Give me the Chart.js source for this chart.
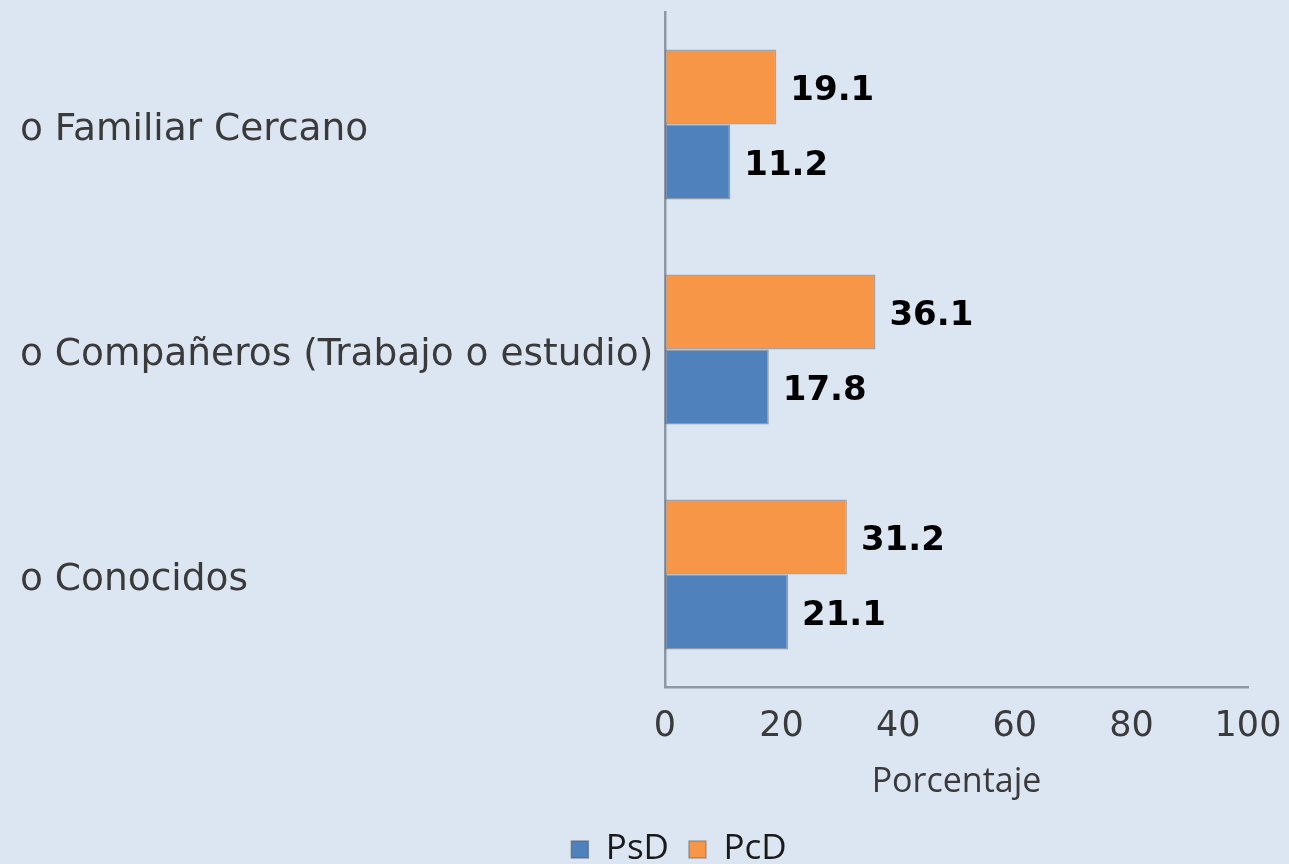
<!DOCTYPE html>
<html>
<head>
<meta charset="utf-8">
<script src="https://cdn.jsdelivr.net/npm/chart.js@4/dist/chart.umd.min.js"></script>
<style>
  html, body { margin: 0; padding: 0; background: #dce6f2; }
  #wrap { width: 1289px; height: 864px; position: relative; }
</style>
</head>
<body>
<div id="wrap"><canvas id="c" width="1289" height="864"></canvas></div>
<script>
const categories = ["o Familiar Cercano", "o Compañeros (Trabajo o estudio)", "o Conocidos"];
const seriesNames = ["PsD", "PcD"];
const psdValues = [11.2, 17.8, 21.1];
const pcdValues = [19.1, 36.1, 31.2];
const xTicks = [0, 20, 40, 60, 80, 100];

const BLUE = '#4f81bd';
const ORANGE = '#f79646';
const AXIS = '#8e98a5';
const TEXT = '#3a3a3a';

const bgPlugin = {
  id: 'bg',
  beforeDraw(chart) {
    const ctx = chart.ctx;
    ctx.save();
    ctx.fillStyle = '#dce6f2';
    ctx.fillRect(0, 0, chart.width, chart.height);
    ctx.restore();
  }
};

const legendShift = {
  id: 'legendShift',
  afterLayout(chart) {
    const lg = chart.legend;
    if (!lg) return;
    const dx = 45, dy = 13;
    lg.left += dx; lg.right += dx;
    lg.top += dy; lg.bottom += dy;
  }
};

const valueLabels = {
  id: 'valueLabels',
  afterDatasetsDraw(chart) {
    const ctx = chart.ctx;
    ctx.save();
    ctx.font = 'bold 34px "DejaVu Sans"';
    ctx.fillStyle = '#000000';
    ctx.textAlign = 'left';
    ctx.textBaseline = 'middle';
    chart.data.datasets.forEach((ds, i) => {
      const meta = chart.getDatasetMeta(i);
      meta.data.forEach((bar, j) => {
        ctx.fillText(ds.data[j].toFixed(1), bar.x + 14, bar.y + 4);
      });
    });
    ctx.restore();
  }
};

new Chart(document.getElementById('c'), {
  type: 'bar',
  data: {
    labels: categories,
    datasets: [
      { label: seriesNames[1], data: pcdValues, backgroundColor: ORANGE, borderColor: 'rgba(120,110,100,0.55)', borderWidth: 1.5, borderSkipped: false, categoryPercentage: 2/3, barPercentage: 1.0 },
      { label: seriesNames[0], data: psdValues, backgroundColor: BLUE, borderColor: 'rgba(80,90,110,0.55)', borderWidth: 1.5, borderSkipped: false, categoryPercentage: 2/3, barPercentage: 1.0 }
    ]
  },
  options: {
    indexAxis: 'y',
    responsive: false,
    animation: false,
    layout: { padding: { left: 20, right: 41, top: 12, bottom: 0 } },
    scales: {
      x: {
        min: 0, max: 100,
        afterBuildTicks(scale) { scale.ticks = xTicks.map(v => ({ value: v })); },
        afterFit(scale) { scale.height = 112; scale.paddingLeft = 0; scale.paddingRight = 0; },
        grid: { display: false },
        border: { display: true, color: AXIS, width: 2.5 },
        ticks: { font: { family: 'DejaVu Sans', size: 35 }, color: TEXT, padding: 11, maxRotation: 0, autoSkip: false },
        title: { display: true, text: 'Porcentaje', font: { family: 'Open Sans', size: 34 }, color: TEXT, padding: { top: 0, bottom: -4 } }
      },
      y: {
        afterFit(scale) { scale.width = 645; scale.paddingTop = 0; scale.paddingBottom = 0; },
        grid: { display: false },
        border: { display: true, color: AXIS, width: 2.5 },
        ticks: { font: { family: 'DejaVu Sans', size: 37.5 }, color: TEXT, crossAlign: 'far', padding: 10, labelOffset: 6 }
      }
    },
    plugins: {
      legend: {
        position: 'bottom',
        reverse: true,
        labels: { boxWidth: 17, boxHeight: 17, padding: 20, color: '#1a1a1a', font: { family: 'Open Sans', size: 35 } }
      },
      tooltip: { enabled: false }
    }
  },
  plugins: [bgPlugin, legendShift, valueLabels]
});
</script>
</body>
</html>
